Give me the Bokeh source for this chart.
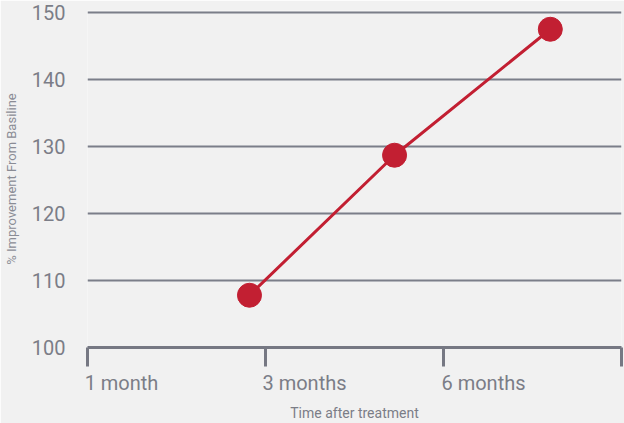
from bokeh.plotting import figure
from bokeh.models import FixedTicker, Range1d
from bokeh.embed import file_html
from bokeh.resources import INLINE

# Data
tick_positions = [0, 1, 2, 3]
tick_labels = ["1 month", "3 months", "6 months"]
time_pos = [0.91, 1.725, 2.60]
improvement = [107.8, 128.7, 147.5]
y_ticks = [100, 110, 120, 130, 140, 150]

BG = "#f1f1f1"
GRID = "#7b7e89"
AXIS = "#767883"
TEXT = "#7b7d87"
RED = "#c21f32"

W, H = 624, 423
LEFT, RIGHT = 87, 3
FRAME_W = W - LEFT - RIGHT
X_START, X_END = 0, 3

p = figure(width=W, height=H, output_backend="svg", toolbar_location=None,
           x_range=Range1d(X_START, X_END), y_range=Range1d(100, 150.3),
           min_border_left=LEFT, min_border_right=RIGHT, min_border_top=10, min_border_bottom=0)
p.background_fill_color = BG
p.border_fill_color = BG
p.outline_line_color = None

p.xgrid.grid_line_color = None
p.ygrid.grid_line_color = GRID
p.ygrid.grid_line_width = 2

# x axis: the tick marks are drawn as "minor" ticks at the month positions,
# and the labels sit just right of each tick (left-aligned look), so the
# invisible major ticks are shifted by half of each label's estimated width.
label_width_px = [74, 84, 86]   # layout estimate of rendered label widths
px_to_data = (X_END - X_START) / FRAME_W
label_pos = [t + (w / 2 - 3) * px_to_data for t, w in zip(tick_positions, label_width_px)]

xa = p.xaxis[0]
xa.ticker = FixedTicker(ticks=label_pos, minor_ticks=tick_positions)
xa.major_label_overrides = {pos: lab for pos, lab in zip(label_pos, tick_labels)}
xa.axis_line_color = AXIS
xa.axis_line_width = 3
xa.major_tick_line_color = None
xa.major_tick_in = 0
xa.major_tick_out = 19
xa.minor_tick_line_color = AXIS
xa.minor_tick_line_width = 3
xa.minor_tick_in = 0
xa.minor_tick_out = 19
xa.major_label_text_font = "Roboto"
xa.major_label_text_font_size = "20px"
xa.major_label_text_color = TEXT
xa.major_label_standoff = 4
xa.axis_label = "Time after treatment"
xa.axis_label_text_font = "Roboto"
xa.axis_label_text_font_size = "14px"
xa.axis_label_text_font_style = "normal"
xa.axis_label_text_color = TEXT
xa.axis_label_standoff = 7

# y axis
ya = p.yaxis[0]
ya.ticker = FixedTicker(ticks=y_ticks)
ya.axis_line_color = None
ya.major_tick_line_color = None
ya.minor_tick_line_color = None
ya.major_label_text_font = "Roboto"
ya.major_label_text_font_size = "20px"
ya.major_label_text_color = TEXT
ya.major_label_standoff = 16
ya.axis_label = "% Improvement From Basiline"
ya.axis_label_text_font = "Roboto"
ya.axis_label_text_font_size = "13px"
ya.axis_label_text_font_style = "normal"
ya.axis_label_text_color = "#8a8c95"
ya.axis_label_standoff = 10

p.line(time_pos, improvement, line_color=RED, line_width=3)
p.scatter(time_pos, improvement, size=24, fill_color=RED, line_color=RED)

open("out.html", "w").write(file_html(p, INLINE))
